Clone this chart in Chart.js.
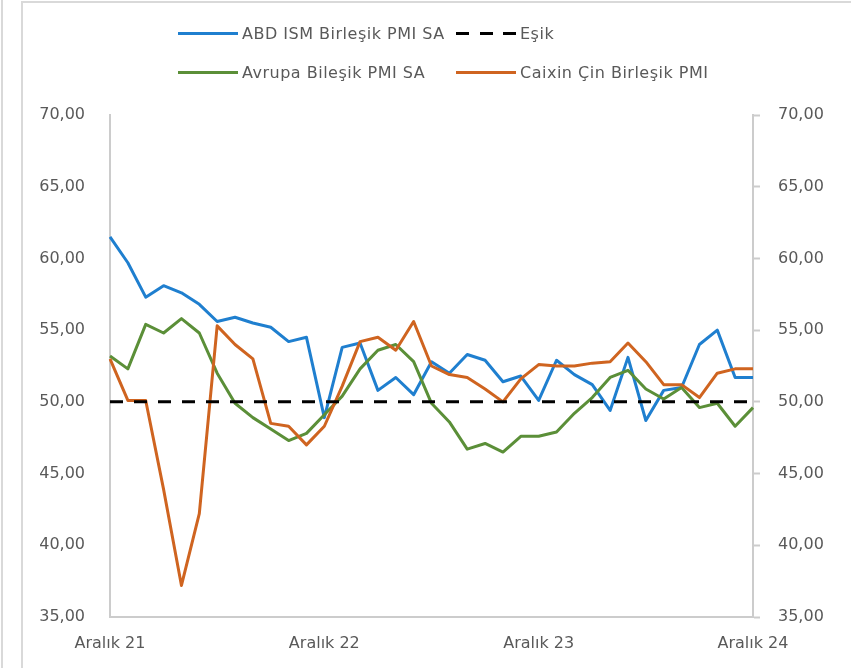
<!DOCTYPE html>
<html lang="tr">
<head>
<meta charset="utf-8">
<title>PMI</title>
<script src="https://cdn.jsdelivr.net/npm/chart.js@4"></script>
<style>
  html, body { margin: 0; padding: 0; background: #fff; }
  body { width: 851px; height: 668px; position: relative; overflow: hidden; font-family: "DejaVu Sans", sans-serif; }
  #frameOuter { position: absolute; left: 1px; top: 0; width: 0; height: 668px; border-left: 2px solid #d9d9d9; }
  #frameInner { position: absolute; left: 21px; top: 1px; right: 0; bottom: 0; border-left: 2px solid #d9d9d9; border-top: 2px solid #d9d9d9; }
  #chartBox { position: absolute; left: 0; top: 0; width: 851px; height: 668px; }
  .legend { position: absolute; left: 178px; top: 20px; display: grid; grid-template-columns: 278px 260px; row-gap: 13px; font-size: 16px; letter-spacing: 0.5px; color: #595959; }
  .item { display: flex; align-items: center; height: 26px; white-space: nowrap; }
  .swatch { width: 60px; height: 3px; margin-right: 4px; }
  .swatch.dash { width: 60px; background: repeating-linear-gradient(to right, #000 0 13px, transparent 13px 23.5px); }
</style>
</head>
<body>
<div id="frameOuter"></div>
<div id="frameInner"></div>
<div id="chartBox"><canvas id="pmiChart" width="851" height="668"></canvas></div>
<div class="legend">
  <div class="item"><span class="swatch" style="background:#1f7fcf"></span>ABD ISM Birleşik PMI SA</div>
  <div class="item"><span class="swatch dash"></span>Eşik</div>
  <div class="item"><span class="swatch" style="background:#5b8f38"></span>Avrupa Bileşik PMI SA</div>
  <div class="item"><span class="swatch" style="background:#cf6420"></span>Caixin Çin Birleşik PMI</div>
</div>
<script>
// aylar: Aralık 21 - Aralık 24
const months = [
    'Aralık 21', 'Ocak 22', 'Şubat 22', 'Mart 22', 'Nisan 22', 'Mayıs 22', 'Haziran 22', 'Temmuz 22', 'Ağustos 22', 'Eylül 22', 'Ekim 22', 'Kasım 22',
    'Aralık 22', 'Ocak 23', 'Şubat 23', 'Mart 23', 'Nisan 23', 'Mayıs 23', 'Haziran 23', 'Temmuz 23', 'Ağustos 23', 'Eylül 23', 'Ekim 23', 'Kasım 23',
    'Aralık 23', 'Ocak 24', 'Şubat 24', 'Mart 24', 'Nisan 24', 'Mayıs 24', 'Haziran 24', 'Temmuz 24', 'Ağustos 24', 'Eylül 24', 'Ekim 24', 'Kasım 24',
    'Aralık 24'
];

const abdIsm = [61.5, 59.7, 57.3, 58.1, 57.6, 56.8, 55.6, 55.9, 55.5, 55.2, 54.2, 54.5,
    48.9, 53.8, 54.1, 50.8, 51.7, 50.5, 52.8, 52.0, 53.3, 52.9, 51.4, 51.8,
    50.1, 52.9, 51.9, 51.2, 49.4, 53.1, 48.7, 50.8, 51.0, 54.0, 55.0, 51.7,
    51.7];

const avrupa = [53.2, 52.3, 55.4, 54.8, 55.8, 54.8, 52.0, 49.9, 48.9, 48.1, 47.3, 47.8,
    49.1, 50.4, 52.3, 53.6, 54.0, 52.8, 49.9, 48.6, 46.7, 47.1, 46.5, 47.6,
    47.6, 47.9, 49.2, 50.3, 51.7, 52.2, 50.9, 50.2, 51.0, 49.6, 49.9, 48.3,
    49.6];

const caixin = [53.0, 50.1, 50.1, 43.9, 37.2, 42.2, 55.3, 54.0, 53.0, 48.5, 48.3, 47.0,
    48.3, 51.1, 54.2, 54.5, 53.6, 55.6, 52.5, 51.9, 51.7, 50.9, 50.0, 51.6,
    52.6, 52.5, 52.5, 52.7, 52.8, 54.1, 52.8, 51.2, 51.2, 50.3, 52.0, 52.3,
    52.3];

const esik = [50, 50, 50, 50, 50, 50, 50, 50, 50, 50, 50, 50,
    50, 50, 50, 50, 50, 50, 50, 50, 50, 50, 50, 50,
    50, 50, 50, 50, 50, 50, 50, 50, 50, 50, 50, 50,
    50];

const yTicks = { min: 35, max: 70, step: 5 };

const axisColor = '#cccccc';
const tickColor = '#595959';
const tickFont = { family: 'DejaVu Sans', size: 16 };

function fmt(v) {
    return v.toFixed(2).replace('.', ',');
}

function lineSet(label, data, color, extra) {
    return Object.assign({
        label: label,
        data: data,
        borderColor: color,
        backgroundColor: color,
        borderWidth: 3,
        pointRadius: 0,
        pointHoverRadius: 0,
        tension: 0,
        fill: false,
        borderJoinStyle: 'round',
        yAxisID: 'y'
    }, extra || {});
}

const ctx = document.getElementById('pmiChart').getContext('2d');
new Chart(ctx, {
    type: 'line',
    data: {
        labels: months,
        datasets: [
            lineSet('Eşik', esik, '#000000', { borderDash: [13, 11], borderCapStyle: 'butt' }),
            lineSet('Caixin Çin Birleşik PMI', caixin, '#cf6420'),
            lineSet('Avrupa Bileşik PMI SA', avrupa, '#5b8f38'),
            lineSet('ABD ISM Birleşik PMI SA', abdIsm, '#1f7fcf')
        ]
    },
    options: {
        responsive: false,
        animation: false,
        events: [],
        layout: { padding: { top: 115, left: 0, right: 0, bottom: 0 } },
        plugins: {
            legend: { display: false },
            tooltip: { enabled: false }
        },
        scales: {
            x: {
                offset: false,
                grid: { display: true, drawOnChartArea: false, drawTicks: false, color: axisColor },
                border: { display: true, color: axisColor, width: 2 },
                ticks: {
                    autoSkip: false,
                    maxRotation: 0,
                    padding: 17,
                    color: tickColor,
                    font: tickFont,
                    callback: function(val, i) { return i % 12 === 0 ? months[i] : ''; }
                },
                afterFit: function(scale) { scale.height = 51; }
            },
            y: {
                position: 'left',
                min: yTicks.min,
                max: yTicks.max,
                grid: { display: true, drawOnChartArea: false, drawTicks: false, color: axisColor },
                border: { display: true, color: axisColor, width: 2 },
                ticks: {
                    stepSize: yTicks.step,
                    padding: 25,
                    color: tickColor,
                    font: tickFont,
                    callback: fmt
                },
                afterFit: function(scale) { scale.width = 110; }
            },
            y2: {
                position: 'right',
                min: yTicks.min,
                max: yTicks.max,
                grid: { display: true, drawOnChartArea: false, drawTicks: true, tickLength: 7, color: axisColor, tickWidth: 2 },
                border: { display: true, color: axisColor, width: 2 },
                ticks: {
                    stepSize: yTicks.step,
                    padding: 18,
                    color: tickColor,
                    font: tickFont,
                    callback: fmt
                },
                afterFit: function(scale) { scale.width = 98; }
            }
        }
    }
});
</script>
</body>
</html>
